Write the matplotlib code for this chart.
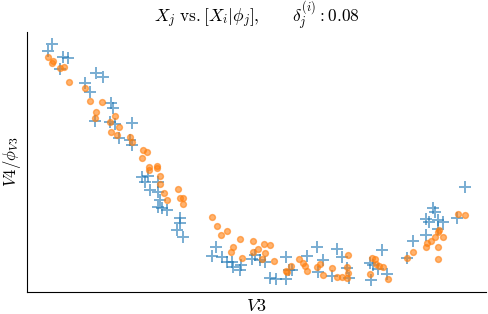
import matplotlib
matplotlib.use("Agg")
import matplotlib.pyplot as plt
import numpy as np

plt.rcParams['mathtext.fontset'] = 'cm'
plt.rcParams['font.family'] = ['DejaVu Serif']

# Blue "+" series: observed X_j (V3, V4)
blue_x = [52, 48, 63, 68, 60, 96, 103, 85, 90, 111, 113, 95, 110, 115, 132, 119, 130, 132,
          142, 148, 145, 150, 158, 158, 160, 158, 162, 167, 180, 180, 177, 183,
          216, 212, 222, 227, 232, 233, 241, 240, 252, 255, 260, 265, 270, 276, 286, 286, 289, 292,
          307, 317, 323, 318, 332, 337, 342, 347, 349, 370, 373, 371, 382, 387, 378,
          407, 413, 426, 426, 429, 433, 435, 438, 443, 438, 457, 465]
blue_y = [44, 51, 57, 58, 69, 73, 77, 83, 92, 103, 108, 121, 122, 124, 123, 138, 140, 145,
          177, 176, 182, 190, 192, 182, 200, 207, 208, 210, 218, 223, 230, 237,
          247, 256, 257, 262, 262, 267, 265, 270, 259, 255, 260, 262, 278, 279, 279, 257, 270, 270,
          256, 247, 260, 272, 276, 249, 257, 268, 278, 263, 265, 280, 250, 274, 269,
          258, 241, 235, 219, 222, 208, 212, 220, 222, 229, 218, 187]

# Orange "o" series: [X_i | phi_j]
orange_x = [48, 53, 52, 60, 64, 69, 85, 90, 102, 96, 95, 115, 110, 119, 111, 117, 130, 132,
            143, 147, 142, 149, 157, 157, 149, 160, 160, 164, 167, 178, 180, 183, 183,
            212, 217, 227, 221, 240, 233, 231, 253, 253, 258, 264, 270, 265, 242, 262, 274,
            291, 286, 287, 299, 303, 305, 307, 317, 320, 323, 332, 337, 342, 347, 348, 347, 348,
            372, 375, 376, 379, 383, 370, 388, 407, 413, 426, 427, 431, 435, 438, 439, 443,
            438, 438, 458, 465]
orange_y = [57, 61, 63, 68, 67, 82, 88, 101, 102, 112, 118, 116, 122, 127, 132, 135, 137, 142,
            150, 152, 158, 167, 166, 168, 170, 176, 184, 193, 200, 189, 198, 198, 204,
            217, 226, 231, 235, 239, 247, 252, 241, 252, 249, 244, 245, 253, 258, 259, 261,
            266, 271, 272, 259, 263, 266, 271, 267, 264, 275, 268, 277, 277, 278, 255, 267, 273,
            258, 259, 264, 266, 267, 274, 279, 258, 252, 247, 243, 241, 237, 232, 230, 237,
            247, 259, 214, 215]

H = 314
fig = plt.figure(figsize=(4.88, 3.14), dpi=100)
ax = fig.add_axes([27/488, 1 - 291.5/H, (486 - 27)/488, (291.5 - 32)/H])

ax.scatter(blue_x, [H - v for v in blue_y], marker='+', s=70, linewidths=1.4,
           color='tab:blue', alpha=0.6)
ax.scatter(orange_x, [H - v for v in orange_y], marker='o', s=18, linewidths=1.0,
           color='tab:orange', alpha=0.6)

ax.set_xlim(27, 486)
ax.set_ylim(H - 291.5, H - 32)
ax.set_xticks([])
ax.set_yticks([])
for s in ['top', 'right']:
    ax.spines[s].set_visible(False)

ax.set_title(r'$X_j\ \mathrm{vs.}[X_i|\phi_j],\quad\quad\delta_j^{(i)}: 0.08$', fontsize=12.5,
             pad=7)
ax.set_xlabel(r'$V3$', fontsize=13, labelpad=4)
ax.set_ylabel(r'$V4/\phi_{V3}$', fontsize=12, labelpad=3)

fig.savefig('out.png', dpi=100)
